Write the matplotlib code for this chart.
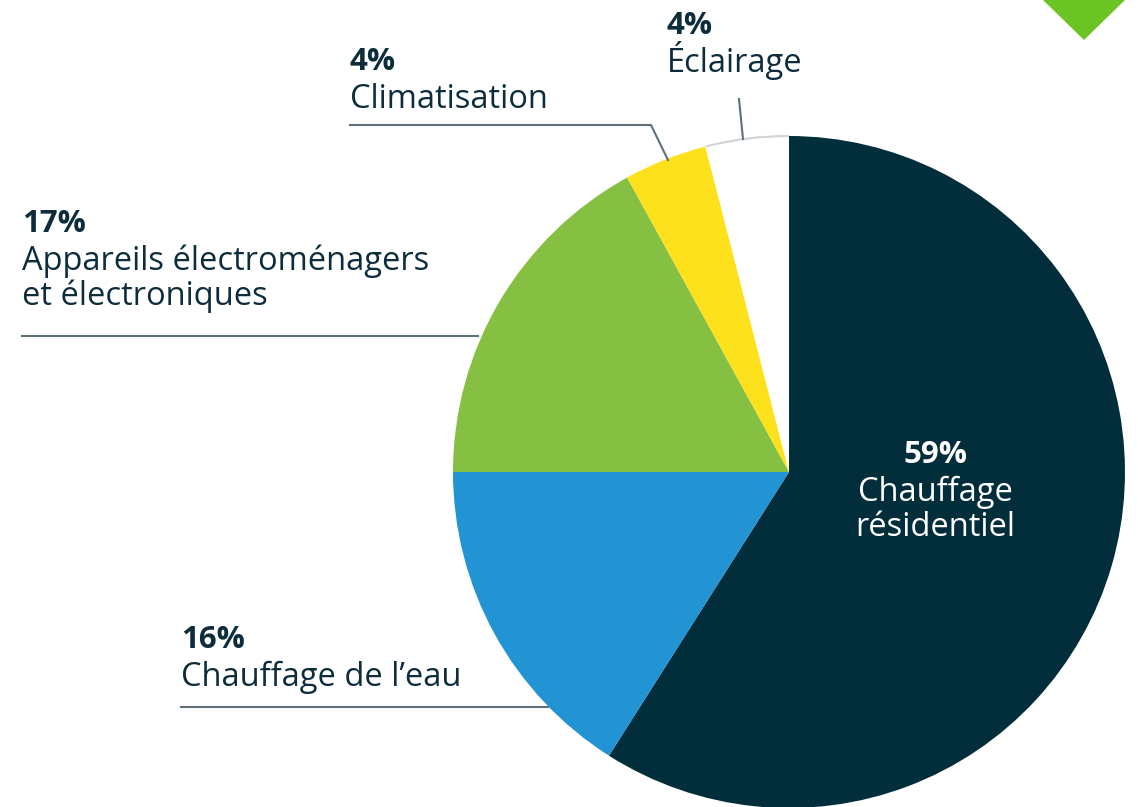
import matplotlib.pyplot as plt
from matplotlib.patches import Polygon, Arc

plt.rcParams['font.family'] = ['Open Sans', 'DejaVu Sans']

# données (part de la consommation d'énergie résidentielle)
labels = ['Chauffage\nrésidentiel', "Chauffage de l’eau",
          'Appareils électroménagers\net électroniques', 'Climatisation', 'Éclairage']
pcts = [59, 16, 17, 4, 4]
colors = ['#022d3b', '#2394d3', '#86c042', '#fde11c', '#ffffff']

W, H = 1138, 807
TXT = '#0d2d3c'
LINE = '#5d707a'

fig = plt.figure(figsize=(W / 100, H / 100), dpi=100)
ax = fig.add_axes([0, 0, 1, 1])

cx, cy, r = 789, H - 472, 336
wedges, _ = ax.pie(pcts, colors=colors, startangle=90, counterclock=False,
                   center=(cx, cy), radius=r, frame=True,
                   wedgeprops=dict(linewidth=0))
ax.set_xlim(0, W)
ax.set_ylim(0, H)
ax.set_aspect('equal')
ax.axis('off')

# contour gris léger sur l'arc de la part blanche
ax.add_patch(Arc((cx, cy), 2 * r, 2 * r, theta1=90, theta2=90 + 360 * pcts[4] / 100,
                 color='#cfd4d7', lw=1.5))

# triangle vert en haut à droite
ax.add_patch(Polygon([(1043, H), (1125, H), (1084, H - 40)], closed=True,
                     color='#6cc324', lw=0))


def label(x, y_pct, pct, lines, color=TXT, ha='left'):
    ax.text(x, H - y_pct, f'{pct}%', fontsize=22.5, fontweight='bold',
            color=color, ha=ha, va='baseline')
    for i, ln in enumerate(lines):
        ax.text(x, H - (y_pct + 38 + 35 * i), ln, fontsize=23.5,
                color=color, ha=ha, va='baseline')


label(350, 70, pcts[3], ['Climatisation'])
label(667, 34, pcts[4], ['Éclairage'])
label(22, 232, pcts[2], labels[2].split('\n'))
label(181, 648, pcts[1], [labels[1]])
label(935, 463, pcts[0], labels[0].split('\n'), color='white', ha='center')

# lignes de rappel
ax.plot([350, 651, 668], [H - 125, H - 125, H - 160], color=LINE, lw=1.5)
ax.plot([739, 743], [H - 99, H - 139], color=LINE, lw=1.5)
ax.plot([22, 478], [H - 336, H - 336], color=LINE, lw=1.5)
ax.plot([181, 548], [H - 707, H - 707], color=LINE, lw=1.5)

fig.savefig('out.png', dpi=100)
